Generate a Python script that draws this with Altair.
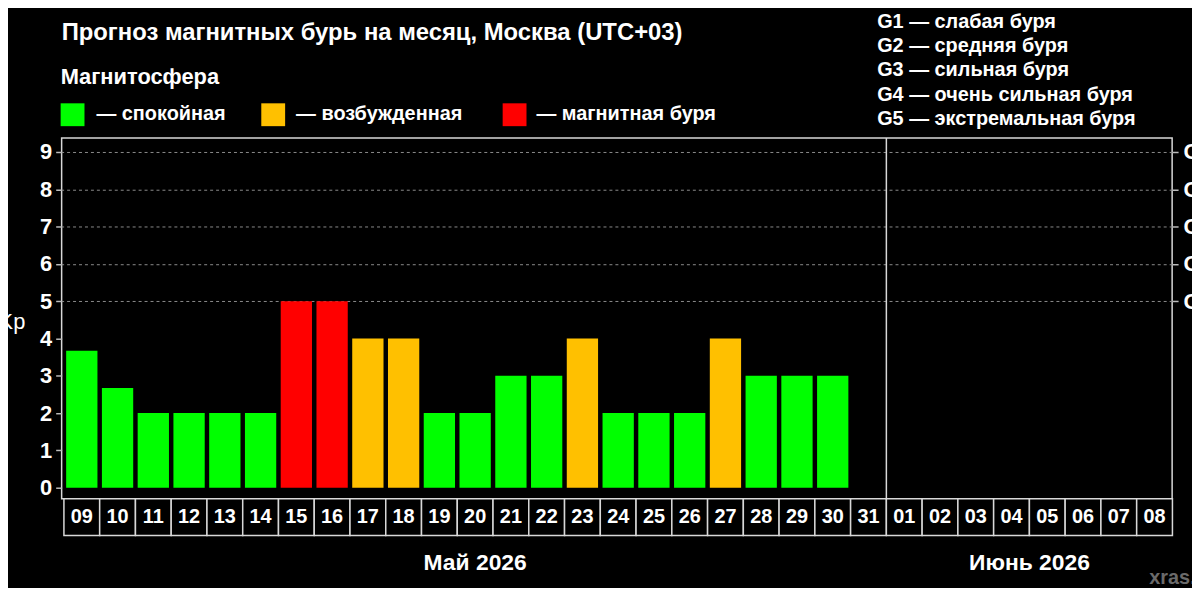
import altair as alt
import pandas as pd

# ---------------- data ----------------
days = ["09", "10", "11", "12", "13", "14", "15", "16", "17", "18", "19", "20",
        "21", "22", "23", "24", "25", "26", "27", "28", "29", "30", "31",
        "01", "02", "03", "04", "05", "06", "07", "08"]
kp_values = [3.67, 2.67, 2, 2, 2, 2, 5, 5, 4, 4, 2, 2, 3, 3, 4, 2, 2, 2, 4, 3, 3, 3]
states = ["спокойная", "спокойная", "спокойная", "спокойная", "спокойная", "спокойная",
          "буря", "буря", "возбужденная", "возбужденная", "спокойная", "спокойная",
          "спокойная", "спокойная", "возбужденная", "спокойная", "спокойная", "спокойная",
          "возбужденная", "спокойная", "спокойная", "спокойная"]
state_domain = ["спокойная", "возбужденная", "буря"]
state_colors = ["#00ff00", "#ffc000", "#ff0000"]
y_ticks = [0, 1, 2, 3, 4, 5, 6, 7, 8, 9]
g_ticks = [5, 6, 7, 8, 9]
months = ["Май 2026", "Июнь 2026"]
month_center_days = ["20", "05"]

title_text = "Прогноз магнитных бурь на месяц, Москва (UTC+03)"
legend_title = "Магнитосфера"
legend_labels = ["— спокойная", "— возбужденная", "— магнитная буря"]
g_lines = ["G1 — слабая буря", "G2 — средняя буря", "G3 — сильная буря",
           "G4 — очень сильная буря", "G5 — экстремальная буря"]

# ---------------- style ----------------
W, H = 1118, 363
LINE = "#d8d8d8"
FONT = "Liberation Sans"

bars_df = pd.DataFrame({"day": days[:len(kp_values)], "kp": kp_values, "state": states})
cells_df = pd.DataFrame({"day": days})

x_scale = alt.Scale(domain=days, range=[2.3, 1118.3], paddingInner=0, paddingOuter=0)
y_scale = alt.Scale(domain=[-0.293, 9.373], nice=False, zero=False)

bars = alt.Chart(bars_df).mark_bar(width=alt.RelativeBandSize(0.875)).encode(
    x=alt.X("day:N", scale=x_scale, axis=None, sort=None),
    y=alt.Y("kp:Q", scale=y_scale,
            axis=alt.Axis(orient="left", values=y_ticks, grid=False, domain=False,
                          tickColor="#bbbbbb", tickSize=6, tickWidth=1.5,
                          labelColor="white", labelFont=FONT, labelFontSize=22,
                          labelFontWeight="bold", labelPadding=4, title=None)),
    y2=alt.value(H),
    color=alt.Color("state:N", scale=alt.Scale(domain=state_domain, range=state_colors),
                    legend=None),
)

g_axis = alt.Chart(bars_df).mark_rule(opacity=0).encode(
    y=alt.Y("kp:Q", scale=y_scale,
            axis=alt.Axis(orient="right", values=g_ticks, grid=True, gridDash=[3, 3],
                          gridColor="#8a8a8a", gridWidth=1, domain=False,
                          tickColor="#bbbbbb", tickSize=6, tickWidth=1.5,
                          labelColor="white", labelFont=FONT, labelFontSize=22,
                          labelFontWeight="bold", labelPadding=5,
                          labelExpr="'G' + (datum.value - 4)", title=None)),
)

divider = alt.Chart(pd.DataFrame({"day": ["01"]})).mark_rule(
    color=LINE, strokeWidth=1.5).encode(
    x=alt.X("day:N", scale=x_scale, axis=None, bandPosition=0),
    y=alt.value(0), y2=alt.value(H),
)

cells = alt.Chart(cells_df).mark_rect(fill="black", stroke=LINE, strokeWidth=1.5).encode(
    x=alt.X("day:N", scale=x_scale, axis=None, sort=None),
    y=alt.value(H), y2=alt.value(H + 37),
)

cell_text = alt.Chart(cells_df).mark_text(
    color="white", font=FONT, fontSize=20, fontWeight="bold", baseline="middle").encode(
    x=alt.X("day:N", scale=x_scale, axis=None, sort=None),
    y=alt.value(H + 19), text="day:N",
)

may = alt.Chart(pd.DataFrame({"day": [month_center_days[0]], "m": [months[0]]})).mark_text(
    color="white", font=FONT, fontSize=23, fontWeight="bold", baseline="middle").encode(
    x=alt.X("day:N", scale=x_scale, axis=None), y=alt.value(428), text="m:N")

june = alt.Chart(pd.DataFrame({"day": [month_center_days[1]], "m": [months[1]]})).mark_text(
    color="white", font=FONT, fontSize=23, fontWeight="bold", baseline="middle").encode(
    x=alt.X("day:N", scale=x_scale, axis=None, bandPosition=0), y=alt.value(428), text="m:N")

one = pd.DataFrame({"k": [0]})

title = alt.Chart(one).mark_text(
    text=title_text, color="white", font=FONT, fontSize=24, fontWeight="bold",
    align="left", baseline="alphabetic").encode(x=alt.value(0), y=alt.value(-99))

leg_title = alt.Chart(one).mark_text(
    text=legend_title, color="white", font=FONT, fontSize=22, fontWeight="bold",
    align="left", baseline="alphabetic").encode(x=alt.value(-1), y=alt.value(-54))

leg_layers = []
sq_x = [-1, 201, 444]
tx_x = [35, 236, 478]
for i in range(3):
    leg_layers.append(alt.Chart(one).mark_rect(color=state_colors[i]).encode(
        x=alt.value(sq_x[i]), x2=alt.value(sq_x[i] + 24),
        y=alt.value(-35), y2=alt.value(-12)))
    leg_layers.append(alt.Chart(one).mark_text(
        text=legend_labels[i], color="white", font=FONT, fontSize=20, fontWeight="bold",
        align="left", baseline="middle").encode(x=alt.value(tx_x[i]), y=alt.value(-24)))

g_text = alt.Chart(one).mark_text(
    text=g_lines, color="white", font=FONT, fontSize=20, fontWeight="bold",
    align="left", baseline="middle", lineHeight=24.5).encode(
    x=alt.value(821), y=alt.value(-117))

kp_label = alt.Chart(one).mark_text(
    text="Kp", color="white", font=FONT, fontSize=22, align="center",
    baseline="middle").encode(x=alt.value(-50), y=alt.value(185))

watermark = alt.Chart(one).mark_text(
    text="xras.ru", color="#6a6a6a", font=FONT, fontSize=20, fontWeight="bold",
    align="left", baseline="middle").encode(x=alt.value(1095), y=alt.value(443))

chart = alt.layer(
    g_axis, bars, divider, cells, cell_text, may, june, title, leg_title,
    *leg_layers, g_text, kp_label, watermark,
).resolve_axis(y="independent").properties(
    width=W, height=H,
    autosize=alt.AutoSizeParams(type="none"),
    padding={"left": 54, "top": 129, "right": 20, "bottom": 88},
    background="black",
).configure_view(stroke=LINE, strokeWidth=1.5)

chart.save("out.html", embed_options={"renderer": "svg", "actions": False})
